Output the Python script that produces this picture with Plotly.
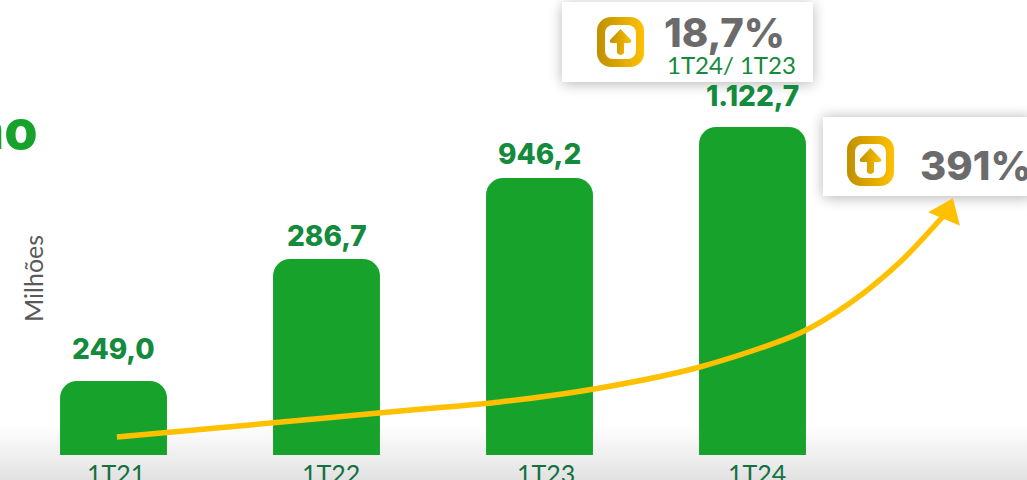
import base64
import plotly.graph_objects as go

W, H = 1027, 480

# --- data ---
quarter_labels = ["1T21", "1T22", "1T23", "1T24"]
bar_positions = [0, 1, 2, 3]
bar_heights = [74, 196, 277, 328]          # drawn height of each column (not to scale with the labels)
value_labels = ["249,0", "286,7", "946,2", "1.122,7"]
tick_positions = [0.01, 1.02, 2.03, 3.02]
trend_x = [0.016, 0.64, 1.345, 1.815, 2.284, 2.753, 3.223, 3.458, 3.693, 3.913]
trend_y = [18, 30, 44, 53, 67, 88, 122, 152, 193, 243]

GREEN = "#17a32b"
DARK_GREEN = "#138a3c"
TICK_GREEN = "#14703f"
GOLD = "#ffc000"
GREY = "#6b6b6b"

STRONG = "Inter"
PLAIN = "Lato"


def icon(x, y):
    return f"""
    <rect x="{x}" y="{y}" width="47" height="50" rx="14" fill="url(#gold)"/>
    <rect x="{x+8}" y="{y+8}" width="31" height="34" rx="8" fill="#fff"/>
    <path d="M{x+23.5} {y+12} L{x+34} {y+23} Q{x+35} {y+26} {x+32} {y+26} L{x+27} {y+26} L{x+27} {y+36}
             Q{x+23.5} {y+40} {x+20} {y+36} L{x+20} {y+26} L{x+15} {y+26} Q{x+12} {y+26} {x+13} {y+23} Z"
          fill="url(#gold)"/>"""


svg = f"""<svg xmlns="http://www.w3.org/2000/svg" width="{W}" height="{H}" viewBox="0 0 {W} {H}">
<defs>
<linearGradient id="floor" x1="0" y1="0" x2="0" y2="1">
  <stop offset="0" stop-color="#ffffff"/><stop offset="1" stop-color="#e2e2e2"/>
</linearGradient>
<linearGradient id="gold" x1="0" y1="0" x2="1" y2="0">
  <stop offset="0" stop-color="#bf9000"/><stop offset="1" stop-color="#ffc000"/>
</linearGradient>
<filter id="soft" x="-20%" y="-40%" width="140%" height="180%"><feGaussianBlur stdDeviation="7"/></filter>
</defs>
<rect x="0" y="425" width="{W}" height="55" fill="url(#floor)"/>
<rect x="562" y="4" width="251" height="80" fill="#000" opacity="0.28" filter="url(#soft)"/>
<rect x="562" y="2" width="251" height="80" fill="#fff"/>
<rect x="823" y="117" width="210" height="81" fill="#000" opacity="0.28" filter="url(#soft)"/>
<rect x="823" y="117" width="210" height="79" fill="#fff"/>
{icon(597, 17)}
{icon(847, 136)}
</svg>"""
svg_uri = "data:image/svg+xml;base64," + base64.b64encode(svg.encode()).decode()

fig = go.Figure()
fig.add_trace(go.Bar(
    x=bar_positions, y=bar_heights, width=0.502,
    marker=dict(color=GREEN, line=dict(width=0)),
    hoverinfo="skip",
))
fig.add_trace(go.Scatter(
    x=trend_x, y=trend_y, mode="lines",
    line=dict(color=GOLD, width=5.5, shape="spline", smoothing=0.8),
    hoverinfo="skip",
))
fig.add_trace(go.Scatter(
    x=trend_x[-1:], y=trend_y[-1:], mode="markers",
    marker=dict(symbol="triangle-up", size=30, color=GOLD, angle=23, opacity=1,
                line=dict(width=0)),
    hoverinfo="skip",
))

annotations = []
label_shift = [13, 4, 5, 12]
for px, h, txt, sh in zip(bar_positions, bar_heights, value_labels, label_shift):
    annotations.append(dict(x=px, y=h, xref="x", yref="y", text=txt, showarrow=False,
                            yanchor="bottom", yshift=sh,
                            font=dict(family=STRONG, size=28, color=DARK_GREEN, weight=800)))


def page_text(x, y, text, family, size, color, xanchor="left", weight=400, **kw):
    annotations.append(dict(x=x / W, y=1 - y / H, xref="paper", yref="paper", text=text, showarrow=False,
                            xanchor=xanchor, yanchor="middle", xshift=-1 if xanchor == "left" else 0,
                            font=dict(family=family, size=size, color=color, weight=weight), **kw))


page_text(663, 33, "18,7%", STRONG, 40, GREY, weight=800)
page_text(666, 65, "1T24/ 1T23", PLAIN, 24, DARK_GREEN)
page_text(919, 165, "391%", STRONG, 40, GREY, weight=800)
page_text(40, 130, "no", STRONG, 54, GREEN, xanchor="right", weight=800)
page_text(33, 279, "Milhões", PLAIN, 25, "#595959", xanchor="center", textangle=-90)

fig.update_layout(
    width=W, height=H,
    margin=dict(l=0, r=0, t=0, b=0),
    autosize=False,
    paper_bgcolor="white",
    plot_bgcolor="rgba(0,0,0,0)",
    showlegend=False,
    barcornerradius=17,
    images=[dict(source=svg_uri, xref="paper", yref="paper", x=0, y=1, sizex=1, sizey=1,
                 xanchor="left", yanchor="top", sizing="stretch", layer="below")],
    annotations=annotations,
    xaxis=dict(range=[-113.5 / 213, (W - 113.5) / 213], showgrid=False, zeroline=False, showline=False,
               showticklabels=False),
    yaxis=dict(range=[-25, 455], showgrid=False, zeroline=False, showline=False, showticklabels=False),
)
for tx, lab in zip(tick_positions, quarter_labels):
    fig.add_annotation(x=tx, y=0, xref="x", yref="y", text=lab, showarrow=False, yanchor="top", yshift=-1,
                       font=dict(family=PLAIN, size=25, color=TICK_GREEN))

fig.write_html("out.html", config={"displayModeBar": False},
               post_script="document.body.style.margin='0';document.body.style.overflow='hidden';")
